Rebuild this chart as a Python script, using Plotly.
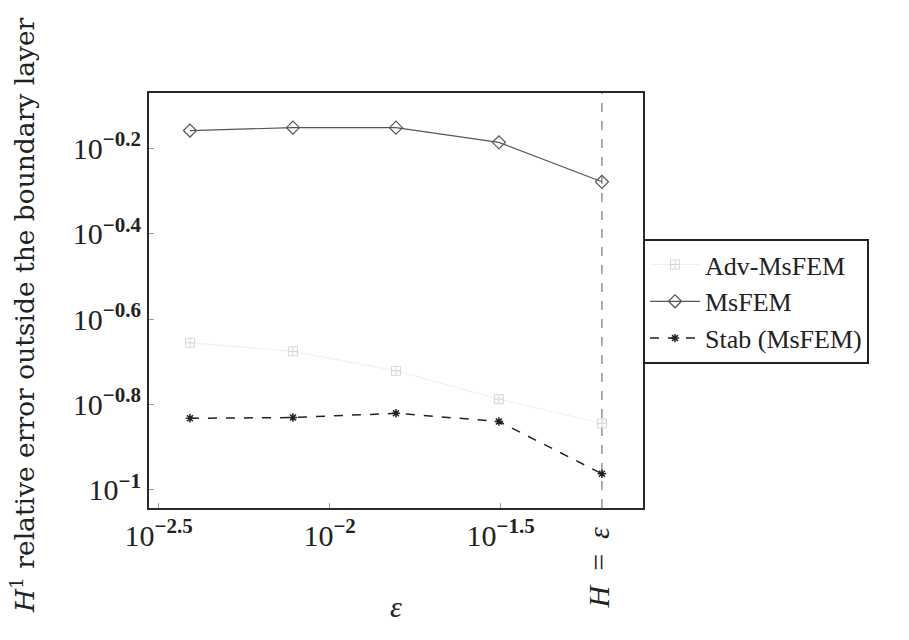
import math
import plotly.graph_objects as go

# epsilon values (1/256 ... 1/16) and H^1 relative errors outside the boundary layer
eps = [1/256, 1/128, 1/64, 1/32, 1/16]
adv_msfem = [0.221, 0.211, 0.190, 0.163, 0.143]
msfem = [0.695, 0.706, 0.706, 0.652, 0.527]
stab_msfem = [0.147, 0.1476, 0.151, 0.1445, 0.109]

H = 1/16

x_tickvals = [10**-2.5, 10**-2, 10**-1.5]
x_ticktext = ["10<sup><b>−2.5</b></sup>", "10<sup><b>−2</b></sup>", "10<sup><b>−1.5</b></sup>"]
y_tickvals = [10**-1, 10**-0.8, 10**-0.6, 10**-0.4, 10**-0.2]
y_ticktext = ["10<sup><b>−1</b></sup>", "10<sup><b>−0.8</b></sup>", "10<sup><b>−0.6</b></sup>",
              "10<sup><b>−0.4</b></sup>", "10<sup><b>−0.2</b></sup>"]

FONT = "Liberation Serif"
WIDE = "DejaVu Serif"
INK = "#222222"

fig = go.Figure()

fig.add_trace(go.Scatter(
    x=eps, y=adv_msfem, name="Adv-MsFEM", mode="lines+markers",
    line=dict(color="#efefef", width=1),
    marker=dict(symbol="square-cross-open", size=9, color="#d6d6d6",
                line=dict(width=1, color="#d6d6d6")),
))
fig.add_trace(go.Scatter(
    x=eps, y=msfem, name="MsFEM", mode="lines+markers",
    line=dict(color="#555555", width=1.2),
    marker=dict(symbol="diamond-open", size=10, color="#555555",
                line=dict(width=1.2, color="#555555")),
))
fig.add_trace(go.Scatter(
    x=eps, y=stab_msfem, name="Stab (MsFEM)", mode="lines+markers",
    line=dict(color=INK, width=1.5, dash="dash"),
    marker=dict(symbol="asterisk-open", size=7, color=INK,
                line=dict(width=1.5, color=INK)),
))

# vertical marker at H = epsilon
fig.add_shape(type="line", xref="x", yref="paper", x0=H, x1=H, y0=0, y1=1,
              line=dict(color="#777777", width=1.2, dash="dash"), layer="below")
fig.add_annotation(x=math.log10(H), y=-0.04, xref="x", yref="paper",
                   text="<i>H</i>  =  <i>ε</i>", textangle=-90, showarrow=False,
                   xanchor="center", yanchor="top", xshift=-3,
                   font=dict(family=FONT, size=30, color=INK))

# y-axis label, placed as a rotated annotation left of the tick labels
fig.add_annotation(x=-0.255, y=0.465, xref="paper", yref="paper",
                   text="<i>H</i><sup>1</sup> relative error outside the boundary layer",
                   textangle=-90, showarrow=False, xanchor="center", yanchor="middle",
                   font=dict(family=WIDE, size=26.5, color=INK))

axis_common = dict(
    type="log", showline=True, mirror=True, linecolor="#2a2a2a", linewidth=2,
    ticks="inside", ticklen=5, tickcolor="#999999", showgrid=False, zeroline=False,
    tickfont=dict(family=FONT, size=30, color=INK),
)

fig.update_layout(
    width=909, height=640,
    margin=dict(l=149, r=266, t=93, b=132),
    paper_bgcolor="white", plot_bgcolor="white",
    showlegend=True,
    legend=dict(x=1.0, y=0.648, xanchor="left", yanchor="top",
                bordercolor=INK, borderwidth=2, bgcolor="white",
                font=dict(family=FONT, size=26, color=INK),
                itemwidth=50, tracegroupgap=0),
    xaxis=dict(axis_common, range=[-2.528, -1.084],
               tickvals=x_tickvals, ticktext=x_ticktext,
               title=dict(text="<i>ε</i>", standoff=45,
                          font=dict(family=FONT, size=30, color=INK))),
    yaxis=dict(axis_common, range=[-1.043, -0.070],
               tickvals=y_tickvals, ticktext=y_ticktext),
)

fig.write_html("out.html")
